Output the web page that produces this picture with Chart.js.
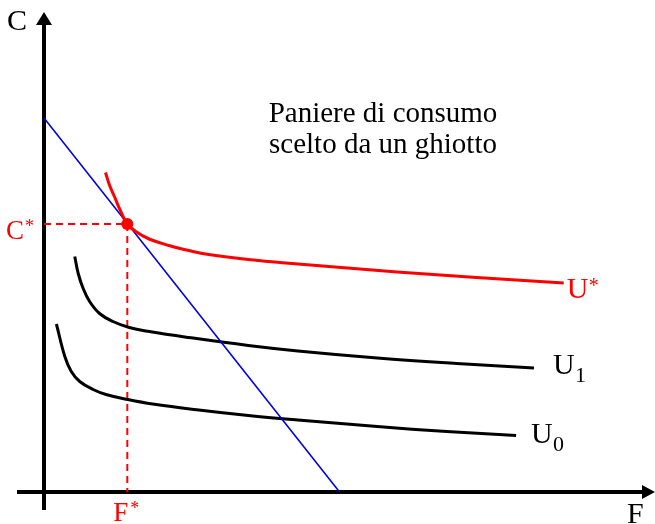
<!DOCTYPE html>
<html>
<head>
<meta charset="utf-8">
<script src="https://cdn.jsdelivr.net/npm/chart.js@4.4.1/dist/chart.umd.min.js"></script>
<style>
  html, body { margin: 0; padding: 0; background: #fff; }
  #wrap { width: 655px; height: 524px; }
</style>
</head>
<body>
<div id="wrap"><canvas id="grafico" width="655" height="524"></canvas></div>
<script>
// retta di bilancio (F, C)
const bilancioF = [0, 5.96];
const bilancioC = [7.48, 0];

// curva di indifferenza U*
const uStarF = [1.24, 1.32, 1.42, 1.53, 1.68, 1.85, 2.12, 2.52, 2.92, 3.32, 4.12, 5.12, 6.12, 7.12, 8.72, 10.48];
const uStarC = [6.39, 6.14, 5.91, 5.65, 5.36, 5.21, 5.06, 4.93, 4.83, 4.75, 4.65, 4.56, 4.48, 4.40, 4.29, 4.18];

// curva U1
const u1F = [0.62, 0.69, 0.79, 0.92, 1.12, 1.39, 1.72, 2.12, 2.92, 4.12, 5.12, 6.72, 8.32, 9.88];
const u1C = [4.71, 4.37, 4.07, 3.81, 3.57, 3.41, 3.29, 3.21, 3.09, 2.93, 2.82, 2.68, 2.57, 2.48];

// curva U0
const u0F = [0.25, 0.42, 0.55, 0.72, 0.99, 1.25, 1.69, 2.19, 3.12, 4.12, 5.12, 6.72, 8.12, 9.52];
const u0C = [3.36, 2.71, 2.41, 2.21, 2.05, 1.95, 1.85, 1.76, 1.64, 1.53, 1.44, 1.31, 1.21, 1.13];

// paniere ottimo (F*, C*)
const ottimoF = 1.68;
const ottimoC = 5.36;

const punti = (xs, ys) => xs.map((x, i) => ({ x: x, y: ys[i] }));

const serif = '"Liberation Serif", "DejaVu Serif", serif';

const assiEtichette = {
    id: 'assiEtichette',
    beforeDatasetsDraw(chart) {
        const ctx = chart.ctx;
        const x0 = chart.scales.x.getPixelForValue(0);
        const y0 = chart.scales.y.getPixelForValue(0);
        ctx.save();
        ctx.strokeStyle = '#000';
        ctx.fillStyle = '#000';
        ctx.lineWidth = 4;
        // asse C
        ctx.beginPath();
        ctx.moveTo(x0, y0 + 18);
        ctx.lineTo(x0, 22);
        ctx.stroke();
        ctx.beginPath();
        ctx.moveTo(x0, 12);
        ctx.lineTo(x0 - 8, 25);
        ctx.lineTo(x0 + 8, 25);
        ctx.closePath();
        ctx.fill();
        // asse F
        ctx.beginPath();
        ctx.moveTo(17, y0);
        ctx.lineTo(645, y0);
        ctx.stroke();
        ctx.beginPath();
        ctx.moveTo(655, y0);
        ctx.lineTo(642, y0 - 7);
        ctx.lineTo(642, y0 + 7);
        ctx.closePath();
        ctx.fill();
        ctx.restore();
    },
    afterDraw(chart) {
        const ctx = chart.ctx;
        const sx = chart.scales.x, sy = chart.scales.y;
        const px = v => sx.getPixelForValue(v);
        const py = v => sy.getPixelForValue(v);
        ctx.save();
        ctx.textAlign = 'left';
        ctx.textBaseline = 'alphabetic';

        ctx.fillStyle = '#000';
        ctx.font = '30px ' + serif;
        ctx.fillText('C', 7, 30);
        ctx.fillText('F', 627, 523);

        // titolo
        ctx.font = '29px ' + serif;
        ctx.textAlign = 'center';
        ctx.fillText('Paniere di consumo', 383, 122);
        ctx.fillText('scelto da un ghiotto', 383, 153);
        ctx.textAlign = 'left';

        // etichette delle curve
        const fine = (xs, ys) => ({ x: px(xs[xs.length - 1]), y: py(ys[ys.length - 1]) });
        let e = fine(u1F, u1C);
        ctx.font = '30px ' + serif;
        ctx.fillText('U', e.x + 19, e.y + 6);
        ctx.font = '22px ' + serif;
        ctx.fillText('1', e.x + 41, e.y + 14);

        e = fine(u0F, u0C);
        ctx.font = '30px ' + serif;
        ctx.fillText('U', e.x + 15, e.y + 7);
        ctx.font = '22px ' + serif;
        ctx.fillText('0', e.x + 37, e.y + 15);

        ctx.fillStyle = '#ff0000';
        e = fine(uStarF, uStarC);
        ctx.font = '30px ' + serif;
        ctx.fillText('U', e.x + 3, e.y + 15);
        ctx.font = '20px ' + serif;
        ctx.fillText('*', e.x + 25, e.y + 9);

        // C* e F*
        const cy = py(ottimoC), fx = px(ottimoF);
        ctx.font = '27px ' + serif;
        ctx.fillText('C', 6, cy + 15);
        ctx.font = '18px ' + serif;
        ctx.fillText('*', 25, cy + 8);
        ctx.font = '27px ' + serif;
        ctx.fillText('F', fx - 14, 521);
        ctx.font = '18px ' + serif;
        ctx.fillText('*', fx + 3, 514);
        ctx.restore();
    }
};

new Chart(document.getElementById('grafico'), {
    type: 'scatter',
    data: {
        datasets: [
            {
                data: [{ x: ottimoF, y: ottimoC }],
                pointRadius: 6, pointBackgroundColor: '#ff0000', pointBorderWidth: 0,
                order: 0
            },
            {
                data: punti(uStarF, uStarC), showLine: true, pointRadius: 0,
                borderColor: '#ff0000', borderWidth: 3, tension: 0.4,
                order: 1
            },
            {
                data: punti(bilancioF, bilancioC), showLine: true, pointRadius: 0,
                borderColor: '#0000dd', borderWidth: 1.6,
                order: 2
            },
            {
                data: punti(u1F, u1C), showLine: true, pointRadius: 0,
                borderColor: '#000', borderWidth: 3, tension: 0.4,
                order: 3
            },
            {
                data: punti(u0F, u0C), showLine: true, pointRadius: 0,
                borderColor: '#000', borderWidth: 3, tension: 0.4,
                order: 4
            },
            {
                data: [{ x: 0, y: ottimoC }, { x: ottimoF, y: ottimoC }], showLine: true, pointRadius: 0,
                borderColor: '#ff0000', borderWidth: 2, borderDash: [7, 5],
                order: 5
            },
            {
                data: [{ x: ottimoF, y: ottimoC }, { x: ottimoF, y: 0 }], showLine: true, pointRadius: 0,
                borderColor: '#ff0000', borderWidth: 2, borderDash: [7, 5],
                order: 5
            }
        ]
    },
    options: {
        responsive: false,
        animation: false,
        layout: { padding: { left: 44, right: 1, top: 12, bottom: 32 } },
        plugins: { legend: { display: false }, tooltip: { enabled: false } },
        scales: {
            x: { type: 'linear', min: 0, max: 12.2, display: false },
            y: { type: 'linear', min: 0, max: 9.6, display: false }
        }
    },
    plugins: [assiEtichette]
});
</script>
</body>
</html>
